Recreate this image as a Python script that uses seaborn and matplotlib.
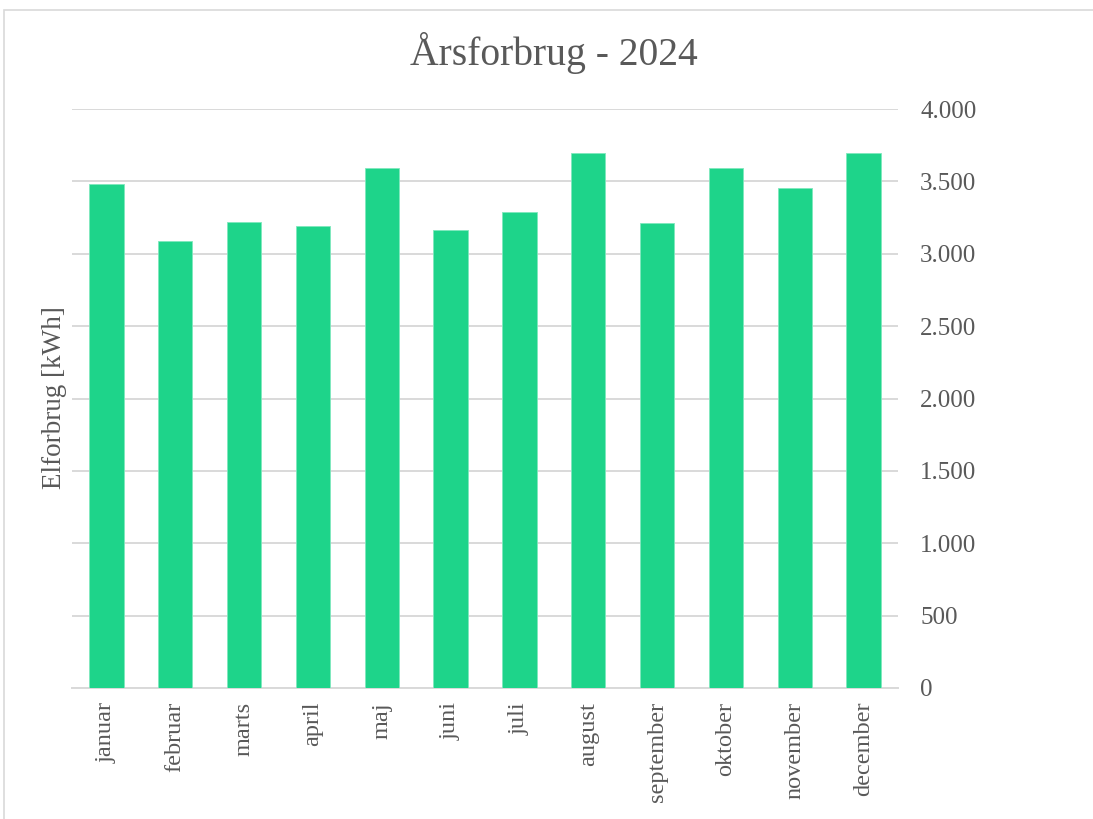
import matplotlib
matplotlib.use("Agg")
import matplotlib.pyplot as plt
import matplotlib.patches as mpatches
from matplotlib.ticker import FuncFormatter
import seaborn as sns
import pandas as pd

months = ["januar", "februar", "marts", "april", "maj", "juni", "juli",
          "august", "september", "oktober", "november", "december"]
consumption = [3485, 3090, 3220, 3190, 3590, 3165, 3285, 3695, 3210, 3595, 3455, 3695]
yticks = [0, 500, 1000, 1500, 2000, 2500, 3000, 3500, 4000]

title = "Årsforbrug - 2024"
ylabel = "Elforbrug [kWh]"

df = pd.DataFrame({"month": months, "kwh": consumption})

sns.set_theme(style="white")
plt.rcParams["font.family"] = ["Liberation Serif", "DejaVu Serif"]

text_col = "#595959"
grid_col = "#D9D9D9"
bar_col = "#1ED48A"

fig = plt.figure(figsize=(10.93, 8.19), dpi=100)
ax = fig.add_axes([72/1093, 1-688/819, (898-72)/1093, (688-109)/819])

sns.barplot(data=df, x="month", y="kwh", color=bar_col, width=0.5,
            saturation=1, edgecolor="#7FE8BD", linewidth=0.6, ax=ax, zorder=3)

ax.set_xlim(-0.5, len(months) - 0.5)
ax.set_ylim(0, 4000)
ax.set_yticks(yticks)
ax.yaxis.set_major_formatter(FuncFormatter(lambda v, p: f"{int(v):,}".replace(",", ".")))
ax.yaxis.tick_right()
ax.grid(axis="y", color=grid_col, linewidth=1.4, zorder=0)
ax.set_axisbelow(True)
for s in ["top", "left", "right"]:
    ax.spines[s].set_visible(False)
ax.spines["bottom"].set_color(grid_col)
ax.spines["bottom"].set_linewidth(1.4)
ax.tick_params(axis="y", length=0, colors=text_col, labelsize=18, pad=16)
ax.tick_params(axis="x", length=0, colors=text_col, labelsize=17.5, pad=10)
plt.setp(ax.get_xticklabels(), rotation=90)
ax.set_xlabel("")
ax.set_ylabel("")
fig.text(55/1093, 1-398/819, ylabel, rotation=90, ha="center", va="center",
         color=text_col, fontsize=19.5)
fig.text(554/1093, 1-53/819, title, ha="center", va="center",
         color=text_col, fontsize=28.5)

border = mpatches.Rectangle((4/1093, -0.05), 1.1, 1 - 10/819 + 0.05,
                            transform=fig.transFigure, fill=False,
                            edgecolor=grid_col, linewidth=1.2)
fig.patches.append(border)

fig.savefig("out.png", dpi=100)
